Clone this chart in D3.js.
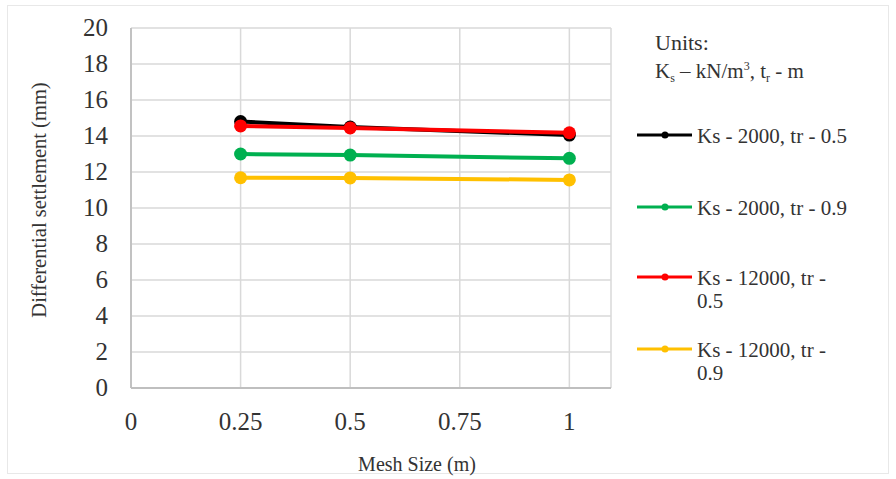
<!DOCTYPE html>
<html>
<head>
<meta charset="utf-8">
<script src="https://cdn.jsdelivr.net/npm/d3@7"></script>
<style>
  body { margin: 0; background: #fff; }
  svg { display: block; font-family: 'Liberation Serif', 'Times New Roman', serif; }
</style>
</head>
<body>
<svg id="chart"></svg>
<script>
const W = 896;
const H = 479;

// ── Data ──────────────────────────────────────────────────────────────────────

const MESH = [0.25, 0.5, 1];
const X_TICKS = [0, 0.25, 0.5, 0.75, 1];
const Y_TICKS = [0, 2, 4, 6, 8, 10, 12, 14, 16, 18, 20];

const KS2000_TR05  = [14.8, 14.5, 14.05];
const KS2000_TR09  = [13.0, 12.94, 12.76];
const KS12000_TR05 = [14.56, 14.45, 14.18];
const KS12000_TR09 = [11.68, 11.67, 11.56];

const SERIES = [
  { lines: ['Ks - 2000, tr - 0.5'],          color: '#000000', values: KS2000_TR05 },
  { lines: ['Ks - 2000, tr - 0.9'],          color: '#00b050', values: KS2000_TR09 },
  { lines: ['Ks - 12000, tr -', '0.5'],      color: '#ff0000', values: KS12000_TR05 },
  { lines: ['Ks - 12000, tr -', '0.9'],      color: '#ffc000', values: KS12000_TR09 },
];

// ── Layout ────────────────────────────────────────────────────────────────────

const plot = { left: 131, right: 611, top: 28, bottom: 388 };
const TEXT = '#333333';

const x = d3.scaleLinear().domain([0, 1.095]).range([plot.left, plot.right]);
const y = d3.scaleLinear().domain([0, 20]).range([plot.bottom, plot.top]);

const svg = d3.select('#chart').attr('width', W).attr('height', H);

// outer chart border
svg.append('rect')
  .attr('x', 7.5).attr('y', 5.5)
  .attr('width', W - 15).attr('height', H - 11)
  .attr('fill', 'none').attr('stroke', '#e8e8e8');

// ── Grid ──────────────────────────────────────────────────────────────────────

const grid = svg.append('g');

grid.selectAll('.hg')
  .data(Y_TICKS)
  .join('line')
  .attr('x1', plot.left).attr('x2', plot.right)
  .attr('y1', d => y(d)).attr('y2', d => y(d))
  .attr('stroke', '#d9d9d9').attr('stroke-width', 1.5);

grid.selectAll('.vg')
  .data(X_TICKS)
  .join('line')
  .attr('x1', d => x(d)).attr('x2', d => x(d))
  .attr('y1', plot.top).attr('y2', plot.bottom)
  .attr('stroke', '#d9d9d9').attr('stroke-width', 1.5);

// right border of plot
grid.append('line')
  .attr('x1', plot.right).attr('x2', plot.right)
  .attr('y1', plot.top).attr('y2', plot.bottom)
  .attr('stroke', '#d9d9d9').attr('stroke-width', 1.5);

// axis lines
svg.append('line')
  .attr('x1', plot.left).attr('x2', plot.right)
  .attr('y1', plot.bottom).attr('y2', plot.bottom)
  .attr('stroke', '#bfbfbf').attr('stroke-width', 1.8);
svg.append('line')
  .attr('x1', plot.left).attr('x2', plot.left)
  .attr('y1', plot.top).attr('y2', plot.bottom)
  .attr('stroke', '#bfbfbf').attr('stroke-width', 1.8);

// ── Tick labels ───────────────────────────────────────────────────────────────

svg.append('g').selectAll('text')
  .data(Y_TICKS)
  .join('text')
  .attr('x', 108).attr('y', d => y(d) + 8)
  .attr('text-anchor', 'end')
  .attr('font-size', 25).attr('fill', TEXT)
  .text(d => d);

svg.append('g').selectAll('text')
  .data(X_TICKS)
  .join('text')
  .attr('x', d => x(d)).attr('y', 430)
  .attr('text-anchor', 'middle')
  .attr('font-size', 25).attr('fill', TEXT)
  .text(d => d);

svg.append('text')
  .attr('x', 417).attr('y', 471)
  .attr('text-anchor', 'middle')
  .attr('font-size', 20).attr('fill', TEXT)
  .text('Mesh Size (m)');

svg.append('text')
  .attr('transform', 'translate(46, 200) rotate(-90)')
  .attr('text-anchor', 'middle')
  .attr('font-size', 20.5).attr('fill', TEXT)
  .text('Differential settlement (mm)');

// ── Series ────────────────────────────────────────────────────────────────────

const line = d3.line().x((d, i) => x(MESH[i])).y(d => y(d));

SERIES.forEach(s => {
  const g = svg.append('g');
  g.append('path')
    .datum(s.values)
    .attr('d', line)
    .attr('fill', 'none')
    .attr('stroke', s.color)
    .attr('stroke-width', 4);
  g.selectAll('circle')
    .data(s.values)
    .join('circle')
    .attr('cx', (d, i) => x(MESH[i]))
    .attr('cy', d => y(d))
    .attr('r', 6.5)
    .attr('fill', s.color);
});

// ── Legend ────────────────────────────────────────────────────────────────────

const legend = svg.append('g').attr('font-size', 21).attr('fill', TEXT);

legend.append('text').attr('x', 655).attr('y', 50).attr('font-size', 22).text('Units:');

const units = legend.append('text').attr('x', 655).attr('y', 78);
units.append('tspan').text('K');
units.append('tspan').attr('font-size', 12).attr('dy', 4).text('s');
units.append('tspan').attr('dy', -4).text(' – kN/m');
units.append('tspan').attr('font-size', 12).attr('dy', -8).text('3');
units.append('tspan').attr('dy', 8).text(', t');
units.append('tspan').attr('font-size', 12).attr('dy', 4).text('r');
units.append('tspan').attr('dy', -4).text(' - m');

const LEGEND_Y = [135, 207, 277, 349];

SERIES.forEach((s, i) => {
  const ly = LEGEND_Y[i];
  legend.append('line')
    .attr('x1', 637).attr('x2', 692)
    .attr('y1', ly).attr('y2', ly)
    .attr('stroke', s.color).attr('stroke-width', 3);
  legend.append('circle')
    .attr('cx', 665).attr('cy', ly).attr('r', 3.5)
    .attr('fill', s.color);
  const t = legend.append('text').attr('x', 697).attr('y', ly + 8);
  s.lines.forEach((l, j) => {
    t.append('tspan').attr('x', 697).attr('dy', j === 0 ? 0 : 23).text(l);
  });
});
</script>
</body>
</html>
